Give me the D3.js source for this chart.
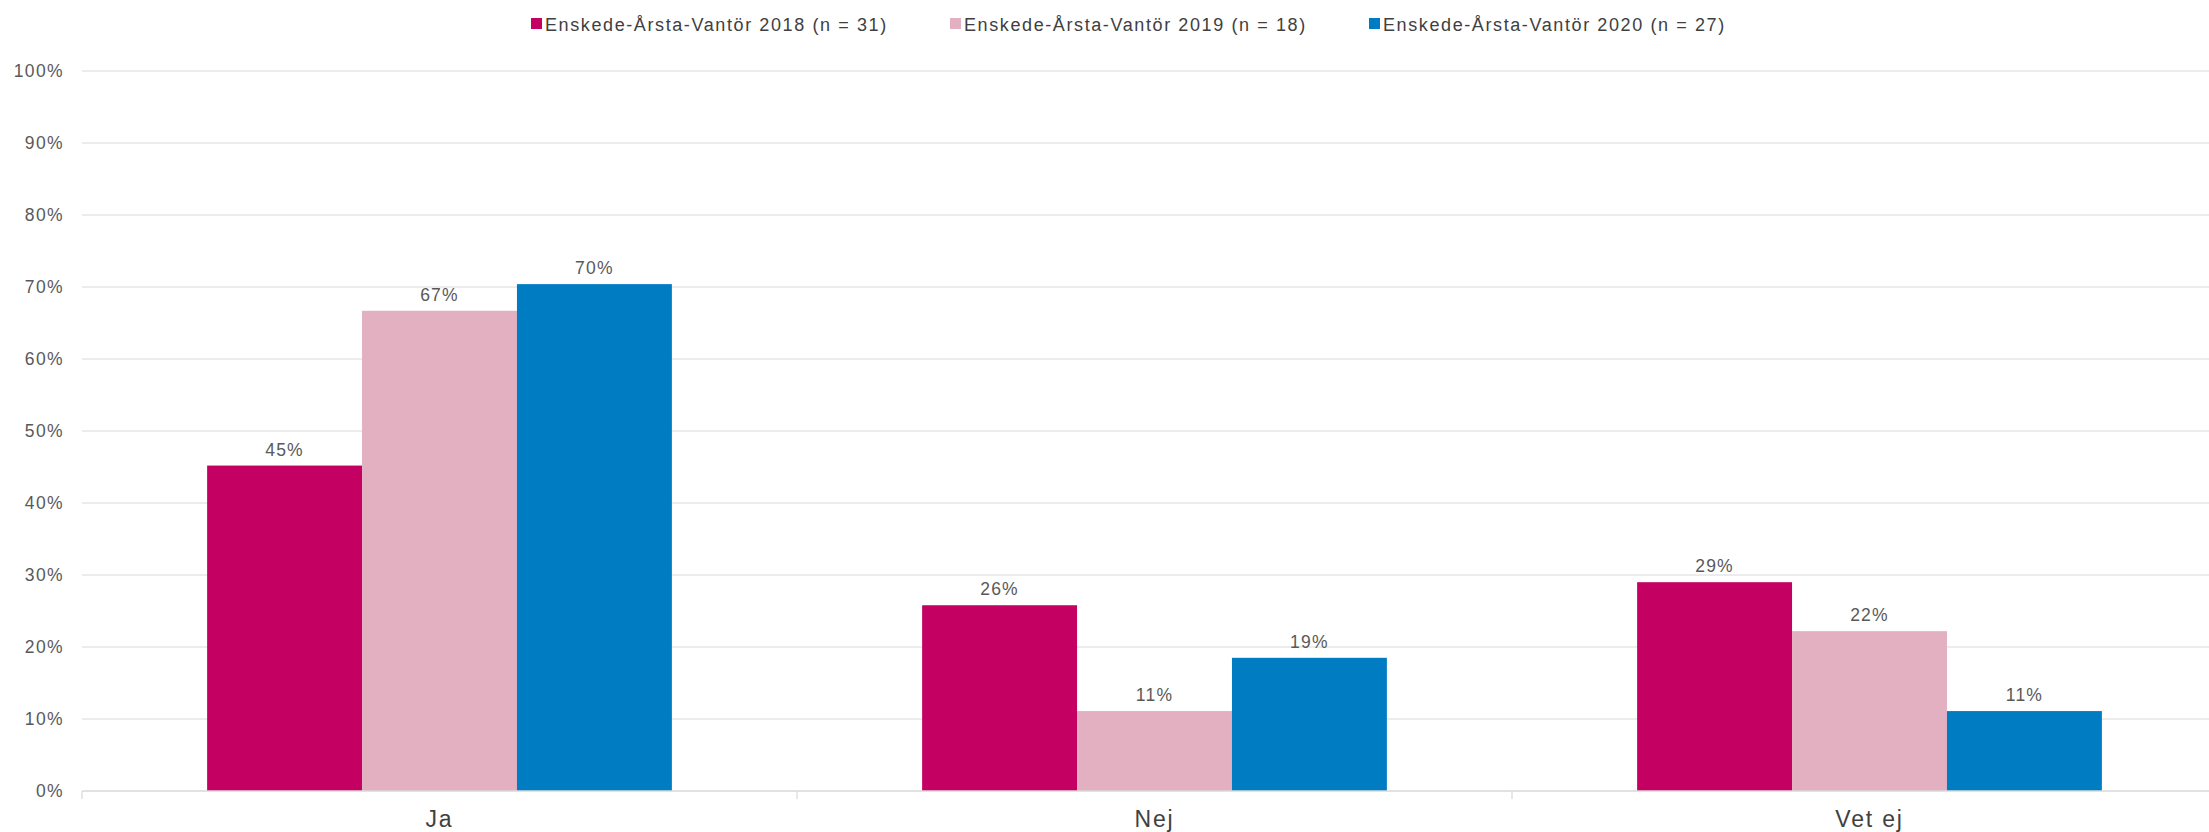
<!DOCTYPE html>
<html>
<head>
<meta charset="utf-8">
<script src="https://cdn.jsdelivr.net/npm/d3@7"></script>
<style>
  html, body { margin: 0; padding: 0; background: #fff; overflow: hidden; }
  svg { display: block; font-family: "Liberation Sans", Arial, sans-serif; }
</style>
</head>
<body>
<svg id="chart" width="2209" height="832"></svg>
<script>
const categories = ["Ja", "Nej", "Vet ej"];
const seriesNames = [
  "Enskede-Årsta-Vantör 2018 (n = 31)",
  "Enskede-Årsta-Vantör 2019 (n = 18)",
  "Enskede-Årsta-Vantör 2020 (n = 27)"
];
const values2018 = [45.2, 25.8, 29.0];
const values2019 = [66.7, 11.1, 22.2];
const values2020 = [70.4, 18.5, 11.1];
const yTicks = [0, 10, 20, 30, 40, 50, 60, 70, 80, 90, 100];
const colors = ["#C40062", "#E2B0C1", "#007CC3"];

const seriesValues = [values2018, values2019, values2020];

const svg = d3.select("#chart");
const plotLeft = 82, plotTop = 71, plotBottom = 791;
const bandStep = 715;
const plotRight = plotLeft + bandStep * categories.length;

const x = d3.scaleBand().domain(categories).range([plotLeft, plotRight])
  .paddingInner(0.35).paddingOuter(0.175);
const xs = d3.scaleBand().domain(d3.range(seriesNames.length)).range([0, x.bandwidth()]);
const y = d3.scaleLinear().domain([0, 100]).range([plotBottom, plotTop]);

// gridlines
svg.append("g").selectAll("line").data(yTicks.filter(d => d > 0)).join("line")
  .attr("x1", plotLeft).attr("x2", 2209)
  .attr("y1", d => y(d)).attr("y2", d => y(d))
  .attr("stroke", "#d9d9d9").attr("stroke-width", 1.2);

// y axis labels
const yAxis = svg.append("g").attr("transform", `translate(${plotLeft},0)`)
  .call(d3.axisLeft(y).tickValues(yTicks).tickFormat(d => d + "%").tickSize(0).tickPadding(18));
yAxis.select(".domain").remove();
yAxis.selectAll("text")
  .attr("fill", "#595959").attr("font-size", "17.5px").attr("letter-spacing", "1.4px")
  .attr("font-family", "Liberation Sans, Arial, sans-serif");

// bars
categories.forEach((c, ci) => {
  const g = svg.append("g").attr("transform", `translate(${x(c)},0)`);
  seriesValues.forEach((vals, si) => {
    g.append("rect")
      .attr("x", xs(si)).attr("width", xs.bandwidth())
      .attr("y", y(vals[ci])).attr("height", y(0) - y(vals[ci]))
      .attr("fill", colors[si]);
    g.append("text")
      .attr("x", xs(si) + xs.bandwidth() / 2)
      .attr("y", y(vals[ci]) - 10)
      .attr("text-anchor", "middle")
      .attr("fill", "#595959").attr("font-size", "17.5px").attr("letter-spacing", "1.2px")
      .text(Math.round(vals[ci]) + "%");
  });
});

// x axis
const xAxisG = svg.append("g").attr("transform", `translate(0,${plotBottom})`);
xAxisG.append("line").attr("x1", plotLeft).attr("x2", 2209).attr("y1", 0).attr("y2", 0)
  .attr("stroke", "#d9d9d9").attr("stroke-width", 1.5);
const boundaries = d3.range(categories.length + 1).map(i => plotLeft + i * x.step());
xAxisG.selectAll("line.tick").data(boundaries).join("line").attr("class", "tick")
  .attr("x1", d => d).attr("x2", d => d).attr("y1", 0).attr("y2", 8)
  .attr("stroke", "#d9d9d9").attr("stroke-width", 1.2);
xAxisG.selectAll("text").data(categories).join("text")
  .attr("x", d => x(d) + x.bandwidth() / 2)
  .attr("y", 36)
  .attr("text-anchor", "middle")
  .attr("fill", "#404040").attr("font-size", "23px").attr("letter-spacing", "1.8px")
  .text(d => d);

// legend
const legendX = [531, 950, 1369];
const legend = svg.append("g");
seriesNames.forEach((name, i) => {
  legend.append("rect").attr("x", legendX[i]).attr("y", 18).attr("width", 11).attr("height", 11)
    .attr("fill", colors[i]);
  legend.append("text").attr("x", legendX[i] + 14).attr("y", 31)
    .attr("fill", "#404040").attr("font-size", "18px").attr("letter-spacing", "1.6px")
    .text(name);
});
</script>
</body>
</html>
